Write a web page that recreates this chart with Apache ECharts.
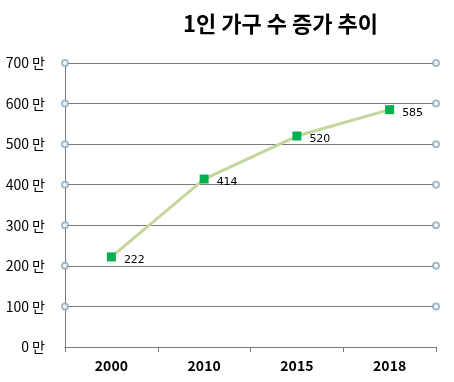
<!DOCTYPE html>
<html><head><meta charset="utf-8">
<script src="https://cdn.jsdelivr.net/npm/echarts@6/dist/echarts.min.js"></script>
<style>html,body{margin:0;padding:0;background:#fff}#c{width:454px;height:382px}</style>
</head><body><div id="c"></div>
<script>
const categories = ['2000', '2010', '2015', '2018'];
const households = [222, 414, 520, 585];
const yTicks = [100, 200, 300, 400, 500, 600, 700];
const yUnit = '만';

const gridCircles = [];
yTicks.forEach(v => { gridCircles.push([0, v]); gridCircles.push([1, v]); });

const chart = echarts.init(document.getElementById('c'));
chart.setOption({
  animation: false,
  backgroundColor: '#fff',
  title: {
    text: '1인 가구 수 증가 추이',
    left: 178, top: 8,
    textStyle: { fontFamily: 'Noto Sans CJK KR', fontSize: 22, fontWeight: 'bold', color: '#000' }
  },
  grid: { left: 65, right: 18, top: 63, bottom: 35 },
  xAxis: [{
    type: 'category', data: categories, boundaryGap: true,
    axisLine: { lineStyle: { color: '#7a7a7a', width: 1 } },
    axisTick: { show: true, length: 5, lineStyle: { color: '#7a7a7a' } },
    axisLabel: { margin: 12, fontFamily: 'Noto Sans CJK KR', fontSize: 14, fontWeight: 'bold', color: '#000' }
  }, {
    type: 'value', min: 0, max: 1, show: false
  }],
  yAxis: {
    type: 'value', min: 0, max: 700, interval: 100,
    axisLine: { show: true, lineStyle: { color: '#7a7a7a', width: 1 } },
    axisTick: { show: false },
    splitLine: { lineStyle: { color: '#7a7a7a', width: 1 } },
    axisLabel: { margin: 20, fontFamily: 'Noto Sans CJK KR', fontSize: 14, color: '#000',
      formatter: v => v + ' ' + yUnit }
  },
  series: [{
    type: 'scatter', xAxisIndex: 1, data: gridCircles, clip: false,
    symbol: 'emptyCircle', symbolSize: 6, silent: true,
    itemStyle: { color: '#8fa9bc', borderWidth: 1 }, z: 3
  }, {
    type: 'line', data: households, xAxisIndex: 0,
    symbol: 'rect', symbolSize: 9,
    lineStyle: { color: '#c3d69b', width: 3 },
    itemStyle: { color: '#00b050', borderWidth: 0 },
    label: { show: true, position: 'right', offset: [3, 3], fontFamily: 'DejaVu Sans', fontSize: 11, color: '#000' },
    z: 4
  }]
});
</script></body></html>
